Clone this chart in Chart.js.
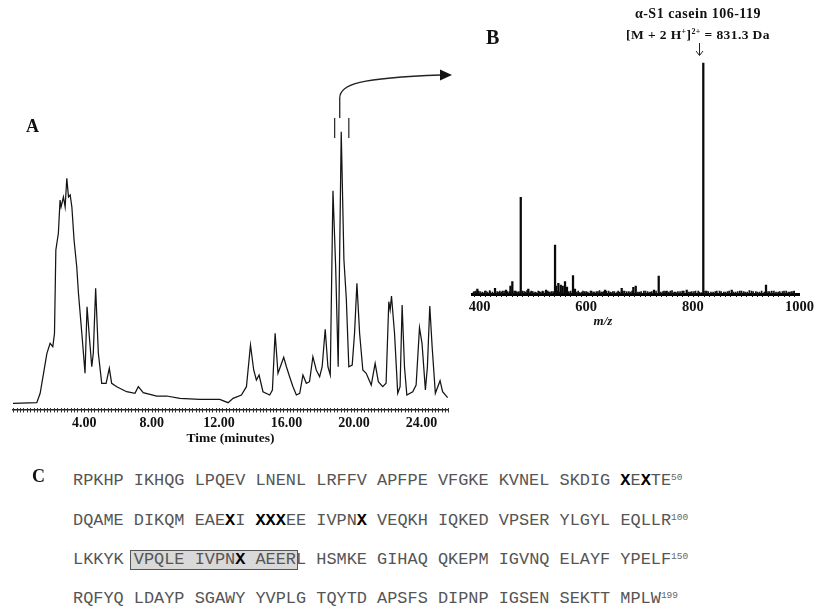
<!DOCTYPE html>
<html>
<head>
<meta charset="utf-8">
<script src="https://cdn.jsdelivr.net/npm/chart.js@4.4.1/dist/chart.umd.min.js"></script>
<style>
  html, body { margin:0; padding:0; background:#fff; }
  body { width:819px; height:614px; overflow:hidden; position:relative; font-family:'Liberation Serif', serif; }
  canvas { position:absolute; }
  .lbl { position:absolute; font-family:'Liberation Serif', serif; font-weight:bold; line-height:1; color:#111; white-space:pre; }
  .seq { position:absolute; left:73px; font-family:'Liberation Mono', monospace; font-size:16.9px; line-height:1; color:#555; white-space:pre; }
  .seq b { color:#000; font-weight:bold; }
  .seq .sup { font-size:9.5px; position:relative; top:-5px; color:#666; }
  .box { position:absolute; left:130px; top:550px; width:166px; height:18px; background:#d9d9d9; border:1px solid #555; }
</style>
</head>
<body>
<canvas id="chartA" width="470" height="400" style="left:0;top:50px;"></canvas>
<canvas id="chartB" width="381" height="280" style="left:440px;top:50px;"></canvas>

<div class="lbl" style="left:26px;top:117px;font-size:18px;">A</div>
<div class="lbl" style="left:486px;top:26.5px;font-size:20px;">B</div>
<div class="lbl" style="left:32px;top:466.5px;font-size:18px;">C</div>

<div class="lbl" style="left:578px;top:7px;width:240px;text-align:center;font-size:14px;letter-spacing:0.5px;">α-S1 casein 106-119</div>
<div class="lbl" style="left:578px;top:28px;width:240px;text-align:center;font-size:13.5px;letter-spacing:0.4px;">[M + 2 H<span style="font-size:8px;position:relative;top:-5px;">+</span>]<span style="font-size:8px;position:relative;top:-5px;">2+</span> = 831.3 Da</div>
<svg style="position:absolute;left:690px;top:42px;" width="20" height="16">
  <line x1="9.5" y1="1" x2="9.5" y2="13" stroke="#222" stroke-width="1"/>
  <polyline points="6,9 9.5,13.5 13,9" fill="none" stroke="#222" stroke-width="1"/>
</svg>
<div class="lbl" style="left:553px;top:314px;width:100px;text-align:center;font-size:13px;font-style:italic;">m/z</div>

<div class="box"></div>
<div class="seq" style="top:473.3px;">RPKHP IKHQG LPQEV LNENL LRFFV APFPE VFGKE KVNEL SKDIG <b>X</b>E<b>X</b>TE<span class="sup">50</span></div>
<div class="seq" style="top:512.5px;">DQAME DIKQM EAE<b>X</b>I <b>XXX</b>EE IVPN<b>X</b> VEQKH IQKED VPSER YLGYL EQLLR<span class="sup">100</span></div>
<div class="seq" style="top:551.5px;">LKKYK VPQLE IVPN<b>X</b> AEERL HSMKE GIHAQ QKEPM IGVNQ ELAYF YPELF<span class="sup">150</span></div>
<div class="seq" style="top:590.5px;">RQFYQ LDAYP SGAWY YVPLG TQYTD APSFS DIPNP IGSEN SEKTT MPLW<span class="sup">199</span></div>

<script>
// ---------- Panel A: chromatogram ----------
const chromTime = [-0.22,1.19,1.39,1.59,1.79,1.98,2.14,2.24,2.32,2.47,2.57,2.63,2.77,2.87,2.97,3.07,3.17,3.27,3.40,3.56,3.66,3.86,4.05,4.17,4.29,4.45,4.54,4.68,4.84,5.04,5.30,5.49,5.63,5.93,6.52,7.01,7.21,7.50,8.30,8.89,9.67,10.86,12.04,12.53,12.83,13.32,13.62,13.86,14.05,14.21,14.37,14.60,15.00,15.16,15.32,15.49,15.63,15.83,15.99,16.18,16.38,16.58,16.78,16.97,17.17,17.36,17.56,17.76,17.96,18.11,18.29,18.45,18.59,18.75,18.91,19.06,19.24,19.40,19.54,19.69,19.89,20.03,20.17,20.33,20.52,20.72,21.02,21.25,21.44,21.70,21.90,22.06,22.14,22.22,22.40,22.59,22.73,22.85,22.99,23.13,23.48,23.68,23.88,24.03,24.23,24.35,24.49,24.63,24.82,25.10,25.25,25.55];
const chromSignal = [6.7,7.3,16.7,36.7,56.7,66.7,63.3,76.7,160,176.7,210,203,213,203,231.7,213,215,203,170,143,116.7,76.7,36.7,103.3,76.7,43.3,56.7,121.7,56.7,26.7,26.7,41.7,26.7,23.3,18.3,16.7,23.3,17.3,14,14,11.7,10.7,10.7,7.3,11.7,15,23.3,65,40,30,35,18.3,15,20,76.7,36.7,43.3,52.7,43.3,33.3,23.3,15,16.7,35,26.7,28.3,53.3,40,33.3,43.3,80.7,43.3,35,219.3,143.3,43.3,278.3,150,111.7,43.3,45,76.7,126.7,76.7,40,36.7,25,46.7,28.3,23.3,26.7,108.3,100,114,76.7,16.7,23.3,105,43.3,15,18.3,25,82.3,66.7,20,43.3,104,63.3,16.7,29.3,18.3,12.3];
const timeTicks = [4, 8, 12, 16, 20, 24];
const collectedPeakTime = 19.24;
const collectWindow = [18.85, 19.69];

// ---------- Panel B: mass spectrum ----------
const peakMz  = [395.9,429,449.7,458,461.5,477.3,491.5,524.7,541.6,543.4,547.8,552.3,556,560.3,564,575.3,579,635.3,666.6,688.4,692.9,727.2,736,751,788.5,819.6,872.9,937.2];
const peakInt = [5,5.7,4,8,12.3,96.7,5,4,49,8,10.7,9,8,12.3,7,18.3,5,4,5.7,6.7,8,4,18,3,4,231,4,9];
const noiseMz  = [390,398,405,412,420,436,443,452,468,472,484,497,504,512,518,532,538,570,585,592,600,608,615,622,630,642,650,658,672,680,700,708,715,720,744,758,765,772,780,795,802,810,826,834,842,850,858,865,880,888,895,902,910,918,925,944,952,960,968,975,982,988];
const noiseInt = [2.5,3,2,3,2.5,2,3,2.5,3,2,2.5,3,2,2.5,3,2,2.5,2,3,2,2.5,3,2,2.5,2,3,2.5,2,3,2.5,2,3,2.5,2,2.5,3,2,2.5,3,2,2.5,3,3,2,2.5,3,2,2.5,2,3,2.5,2,3,2.5,2,2.5,3,2,2.5,3,2,2.5];
const noise2Mz = [388,393,401,406,410,415,419,424,433,438,441,446,453,456,465,470,474,481,486,489,495,500,506,510,515,520,528,530,535,546,550,567,571,582,588,594,597,603,610,613,619,625,628,633,638,645,648,653,660,663,669,676,683,686,697,703,711,718,723,731,740,746,749,755,761,768,776,783,792,798,805,812,816,823,829,838,845,853,861,868,876,884,891,898,906,913,921,929,934,941,948,956,963,971,979,985,990];
const noise2Int = [2,3,2.5,1.5,3,2,3.5,2,2.5,3,2,3,1.5,2.5,3,2,2.5,3,2,3.5,2,2.5,1.5,3,2,2.5,3,2,2.5,3,2,2.5,3,2,1.5,3,2.5,2,3,2,2.5,3.5,2,2.5,3,2,1.5,2.5,3,2,3,2.5,2,3,2,2.5,3,1.5,2.5,3,2,3,2.5,2,3.5,2,2.5,3,2,2.5,3,2,1.5,3,2.5,2,3,2.5,2,3,2,2.5,3,2,3.5,2.5,2,3,2,2.5,3,2,2.5,3,2,2.5,3];
const mzTicks = [400, 600, 800, 1000];

Chart.defaults.font.family = "'Liberation Serif', serif";
Chart.defaults.color = '#111';

const tickFontA = { family: "'Liberation Serif', serif", size: 14, weight: 'bold' };

const minorTicksA = {
  id: 'minorTicksA',
  afterDraw(chart) {
    const ctx = chart.ctx, xs = chart.scales.x, ys = chart.scales.y;
    const yAxis = chart.chartArea.bottom;
    ctx.save();
    ctx.strokeStyle = '#333';
    ctx.lineWidth = 1;
    for (let t = -0.2; t <= 25.6; t += 0.2) {
      const px = Math.round(xs.getPixelForValue(t)) + 0.5;
      ctx.beginPath(); ctx.moveTo(px, yAxis - 2); ctx.lineTo(px, yAxis + 2.5); ctx.stroke();
    }
    // collection window markers
    ctx.strokeStyle = '#222'; ctx.lineWidth = 1.2;
    collectWindow.forEach(t => {
      const px = xs.getPixelForValue(t);
      ctx.beginPath(); ctx.moveTo(px, ys.getPixelForValue(292)); ctx.lineTo(px, ys.getPixelForValue(272)); ctx.stroke();
    });
    // curved arrow from the collected peak to panel B
    const x0 = xs.getPixelForValue(collectedPeakTime) - 1.5;
    const yStart = ys.getPixelForValue(292);
    const yBend = ys.getPixelForValue(312);
    const tipX = 452, tipY = 25;
    ctx.lineWidth = 1.3;
    ctx.beginPath();
    ctx.moveTo(x0, yStart);
    ctx.lineTo(x0, yBend);
    ctx.bezierCurveTo(x0, yBend - 14, x0 + 20, tipY + 3, tipX - 11, tipY);
    ctx.stroke();
    ctx.fillStyle = '#111';
    ctx.beginPath();
    ctx.moveTo(tipX, tipY); ctx.lineTo(tipX - 12, tipY - 5.5); ctx.lineTo(tipX - 12, tipY + 5.5); ctx.closePath(); ctx.fill();
    ctx.restore();
  }
};

new Chart(document.getElementById('chartA'), {
  type: 'line',
  data: {
    datasets: [{
      data: chromTime.map((t, i) => ({ x: t, y: chromSignal[i] })),
      borderColor: '#141414',
      borderWidth: 1.25,
      pointRadius: 0,
      tension: 0,
      fill: false
    }]
  },
  options: {
    responsive: false, animation: false, devicePixelRatio: 1,
    layout: { padding: { left: 12.5, right: 21.5, top: 50, bottom: 0 } },
    plugins: { legend: { display: false }, tooltip: { enabled: false } },
    scales: {
      x: {
        type: 'linear', min: -0.25, max: 25.6,
        grid: { display: false, drawTicks: false },
        border: { display: true, color: '#222', width: 1.5 },
        afterBuildTicks: s => { s.ticks = timeTicks.map(v => ({ value: v })); },
        afterFit: s => { s.height = 40; },
        ticks: { padding: 4.5, font: tickFontA, color: '#111', maxRotation: 0, autoSkip: false,
                 callback: v => Number(v).toFixed(2) },
        title: { display: true, text: 'Time (minutes)', font: { family: "'Liberation Serif', serif", size: 13.5, weight: 'bold' }, color: '#111', padding: { top: 0, bottom: 3.5 } }
      },
      y: { display: false, min: 0, max: 310 }
    }
  },
  plugins: [minorTicksA]
});

const minorTicksB = {
  id: 'minorTicksB',
  afterDraw(chart) {
    const ctx = chart.ctx, xs = chart.scales.x;
    const yAxis = chart.chartArea.bottom;
    ctx.save();
    ctx.strokeStyle = '#111'; ctx.lineWidth = 1;
    for (let m = 390; m <= 990; m += 10) {
      const px = Math.round(xs.getPixelForValue(m)) + 0.5;
      ctx.beginPath(); ctx.moveTo(px, yAxis); ctx.lineTo(px, yAxis + 3); ctx.stroke();
    }
    ctx.restore();
  }
};

new Chart(document.getElementById('chartB'), {
  type: 'bar',
  data: {
    datasets: [
      { data: peakMz.map((m, i) => ({ x: m, y: peakInt[i] })), backgroundColor: '#0a0a0a', barThickness: 1.6, grouped: false },
      { data: noiseMz.map((m, i) => ({ x: m, y: noiseInt[i] })), backgroundColor: '#111', barThickness: 1, grouped: false },
      { data: noise2Mz.map((m, i) => ({ x: m, y: noise2Int[i] })), backgroundColor: '#111', barThickness: 1, grouped: false }
    ]
  },
  options: {
    responsive: false, animation: false, devicePixelRatio: 1,
    layout: { padding: { left: 32.6, right: 21.5, top: 10, bottom: 0 } },
    plugins: { legend: { display: false }, tooltip: { enabled: false } },
    scales: {
      x: {
        type: 'linear', min: 387, max: 1000, offset: false,
        grid: { display: false, drawTicks: false },
        border: { display: true, color: '#000', width: 3 },
        afterBuildTicks: s => { s.ticks = mzTicks.map(v => ({ value: v })); },
        afterFit: s => { s.height = 36; },
        ticks: { padding: 5, font: { family: "'Liberation Serif', serif", size: 14.5, weight: 'bold' }, color: '#111', maxRotation: 0, autoSkip: false,
                 callback: v => String(v) }
      },
      y: { display: false, min: 0, max: 234 }
    }
  },
  plugins: [minorTicksB]
});
</script>
</body>
</html>
